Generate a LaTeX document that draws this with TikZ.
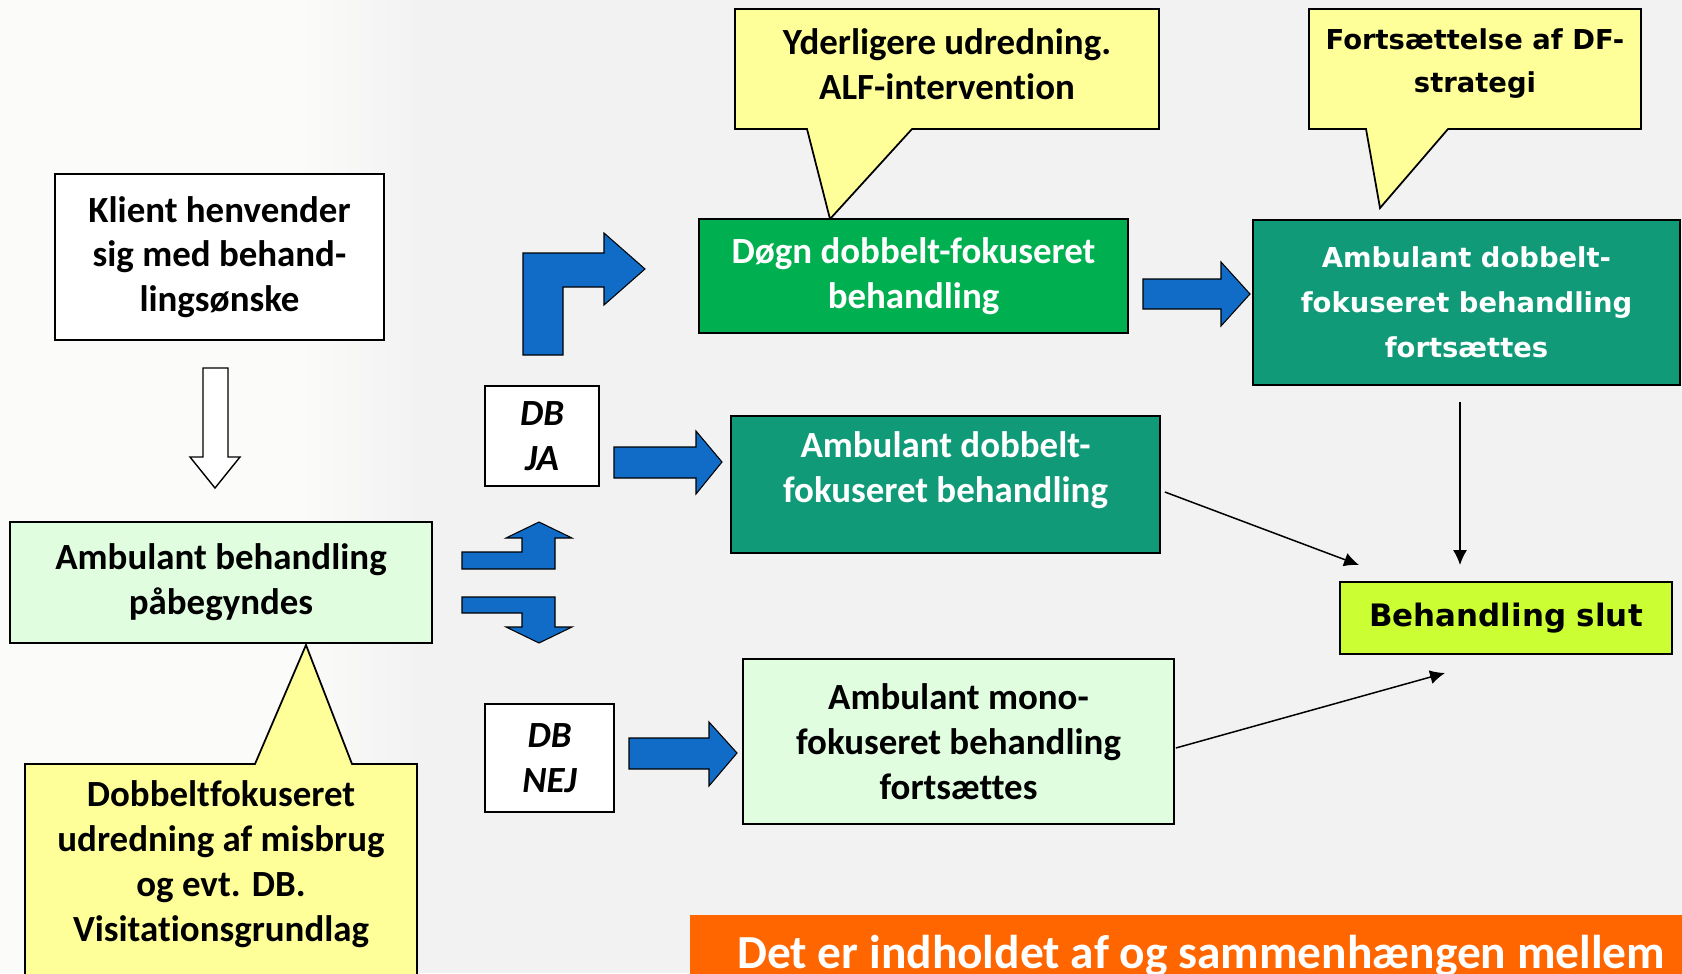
\documentclass[tikz,border=0pt]{standalone}
\usepackage{fontspec}
\setmainfont{Carlito}[Ligatures=NoCommon]
\newfontfamily\widefont{DejaVu Sans}
\usetikzlibrary{arrows.meta}

\definecolor{bggrey}{HTML}{F2F2F2}
\definecolor{bglight}{HTML}{FBFBFA}
\definecolor{arrowblue}{HTML}{106CC6}
\definecolor{boxteal}{HTML}{109A78}
\definecolor{dogngreen}{HTML}{00B050}
\definecolor{noteyellow}{HTML}{FFFF99}
\definecolor{palegreen}{HTML}{E0FDE0}
\definecolor{slutlime}{HTML}{CCFF33}
\definecolor{bannerorange}{HTML}{FF6600}

\tikzset{
	box/.style={draw=black, line width=1pt, inner sep=0pt, align=center, font=\fontsize{21}{25.5}\selectfont\bfseries},
	widebox/.style={box, font=\fontsize{15.6}{25.5}\widefont\bfseries},
	txt/.style={inner sep=0pt, align=center, font=\fontsize{21}{25.5}\selectfont\bfseries},
	widetxt/.style={txt, font=\fontsize{15.6}{24.5}\widefont\bfseries},
	note/.style={draw=black, line width=1pt, fill=noteyellow},
	blockarrow/.style={draw=black, line width=0.6pt, fill=arrowblue},
	flow/.style={-{Latex[length=8.5pt,width=8pt]}, line width=0.85pt},
}

\begin{document}
\begin{tikzpicture}[x=0.02cm, y=-0.02cm]
	\useasboundingbox (0,0) rectangle (1682,973);
	\clip (0,0) rectangle (1682,973);
	\fill[bggrey] (0,0) rectangle (1682,973);
	\fill[bglight] (0,0) rectangle (300,973);
	\shade[left color=bglight, right color=bggrey] (299,0) rectangle (420,973);

	%% left column
	\node[box, fill=white, minimum width=6.58cm, minimum height=3.32cm] (klient) at (219.5,257) {Klient henvender\\sig med behand-\\lingsønske};
	\draw[line width=0.8pt, fill=white] (203,368) -- (228,368) -- (228,457) -- (240,457) -- (215,488) -- (190,457) -- (203,457) -- cycle;
	\node[box, fill=palegreen, minimum width=8.44cm, minimum height=2.42cm] (start) at (221,582.5) {Ambulant behandling\\påbegyndes};
	\draw[note] (25,764) -- (255,764) -- (306,645) -- (352,764) -- (417,764) -- (417,990) -- (25,990) -- cycle;
	\node[txt] (visit) at (221,864) {Dobbeltfokuseret\\udredning af misbrug\\og evt. DB.\\Visitationsgrundlag};

	%% DB ja / nej
	\node[box, fill=white, font=\fontsize{21}{25.5}\selectfont\bfseries\itshape, minimum width=2.28cm, minimum height=2cm] (dbja) at (542,436) {DB\\JA};
	\node[box, fill=white, font=\fontsize{21}{25.5}\selectfont\bfseries\itshape, minimum width=2.58cm, minimum height=2.16cm] (dbnej) at (549.5,758) {DB\\NEJ};

	\draw[blockarrow] (523,355) -- (523,253) -- (604,253) -- (604,233) -- (645,269) -- (604,305) -- (604,287) -- (563,287) -- (563,355) -- cycle;
	\draw[blockarrow] (462,552) -- (522,552) -- (522,538) -- (506,538) -- (539,522) -- (572,538) -- (555,538) -- (555,569) -- (462,569) -- cycle;
	\draw[blockarrow] (462,597) -- (555,597) -- (555,627) -- (572,627) -- (539,643) -- (506,627) -- (522,627) -- (522,613) -- (462,613) -- cycle;
	\draw[blockarrow] (614,447) -- (696,447) -- (696,431) -- (722,462) -- (696,494) -- (696,478) -- (614,478) -- cycle;
	\draw[blockarrow] (629,738) -- (709,738) -- (709,722) -- (737,753) -- (709,786) -- (709,769) -- (629,769) -- cycle;
	\draw[blockarrow] (1143,279) -- (1221,279) -- (1221,262) -- (1250,294) -- (1221,326) -- (1221,309) -- (1143,309) -- cycle;

	%% middle column
	\draw[note] (735,9) -- (1159,9) -- (1159,129) -- (912,129) -- (830,219) -- (807,129) -- (735,129) -- cycle;
	\node[txt] (udred) at (947,64) {Yderligere udredning.\\ALF-intervention};
	\node[box, fill=dogngreen, text=white, minimum width=8.58cm, minimum height=2.28cm] (dogn) at (913.5,276) {Døgn dobbelt-fokuseret\\behandling};
	\node[box, fill=boxteal, minimum width=8.58cm, minimum height=2.74cm] (dobbelt) at (945.5,484.5) {};
	\node[txt, text=white] (dobbelttxt) at ([yshift=0.29cm]dobbelt.center) {Ambulant dobbelt-\\fokuseret behandling};
	\node[box, fill=palegreen, minimum width=8.62cm, minimum height=3.3cm] (mono) at (958.5,741.5) {Ambulant mono-\\fokuseret behandling\\fortsættes};

	%% right column
	\draw[note] (1309,9) -- (1641,9) -- (1641,129) -- (1448,129) -- (1380,208) -- (1366,129) -- (1309,129) -- cycle;
	\node[widetxt] (strategi) at (1475,64) {Fortsættelse af DF-\\strategi};
	\node[widebox, fill=boxteal, text=white, minimum width=8.54cm, minimum height=3.3cm] (fortsaet) at (1466.5,302.5) {Ambulant dobbelt-\\fokuseret behandling\\fortsættes};
	\node[box, fill=slutlime, font=\fontsize{17.6}{21}\widefont\bfseries, minimum width=6.64cm, minimum height=1.44cm] (slut) at (1506,618) {Behandling slut};

	\coordinate (slutA) at (1359,565);
	\coordinate (slutB) at (1445,673);
	\coordinate (slutC) at (1460,565);
	\draw[flow, shorten <=0.32cm] (fortsaet.south -| slutC) -- (slutC);
	\draw[flow] ([shift={(4,7.5)}]dobbelt.east) -- (slutA);
	\draw[flow] ([shift={(1,6.5)}]mono.east) -- (slutB);

	%% banner
	\fill[bannerorange] (690,915) rectangle (1682,990);
	\node[anchor=base west, inner sep=0pt, text=white, font=\fontsize{27}{32}\selectfont\bfseries] (banner) at (737,968) {Det er indholdet af og sammenhængen mellem};
\end{tikzpicture}
\end{document}
